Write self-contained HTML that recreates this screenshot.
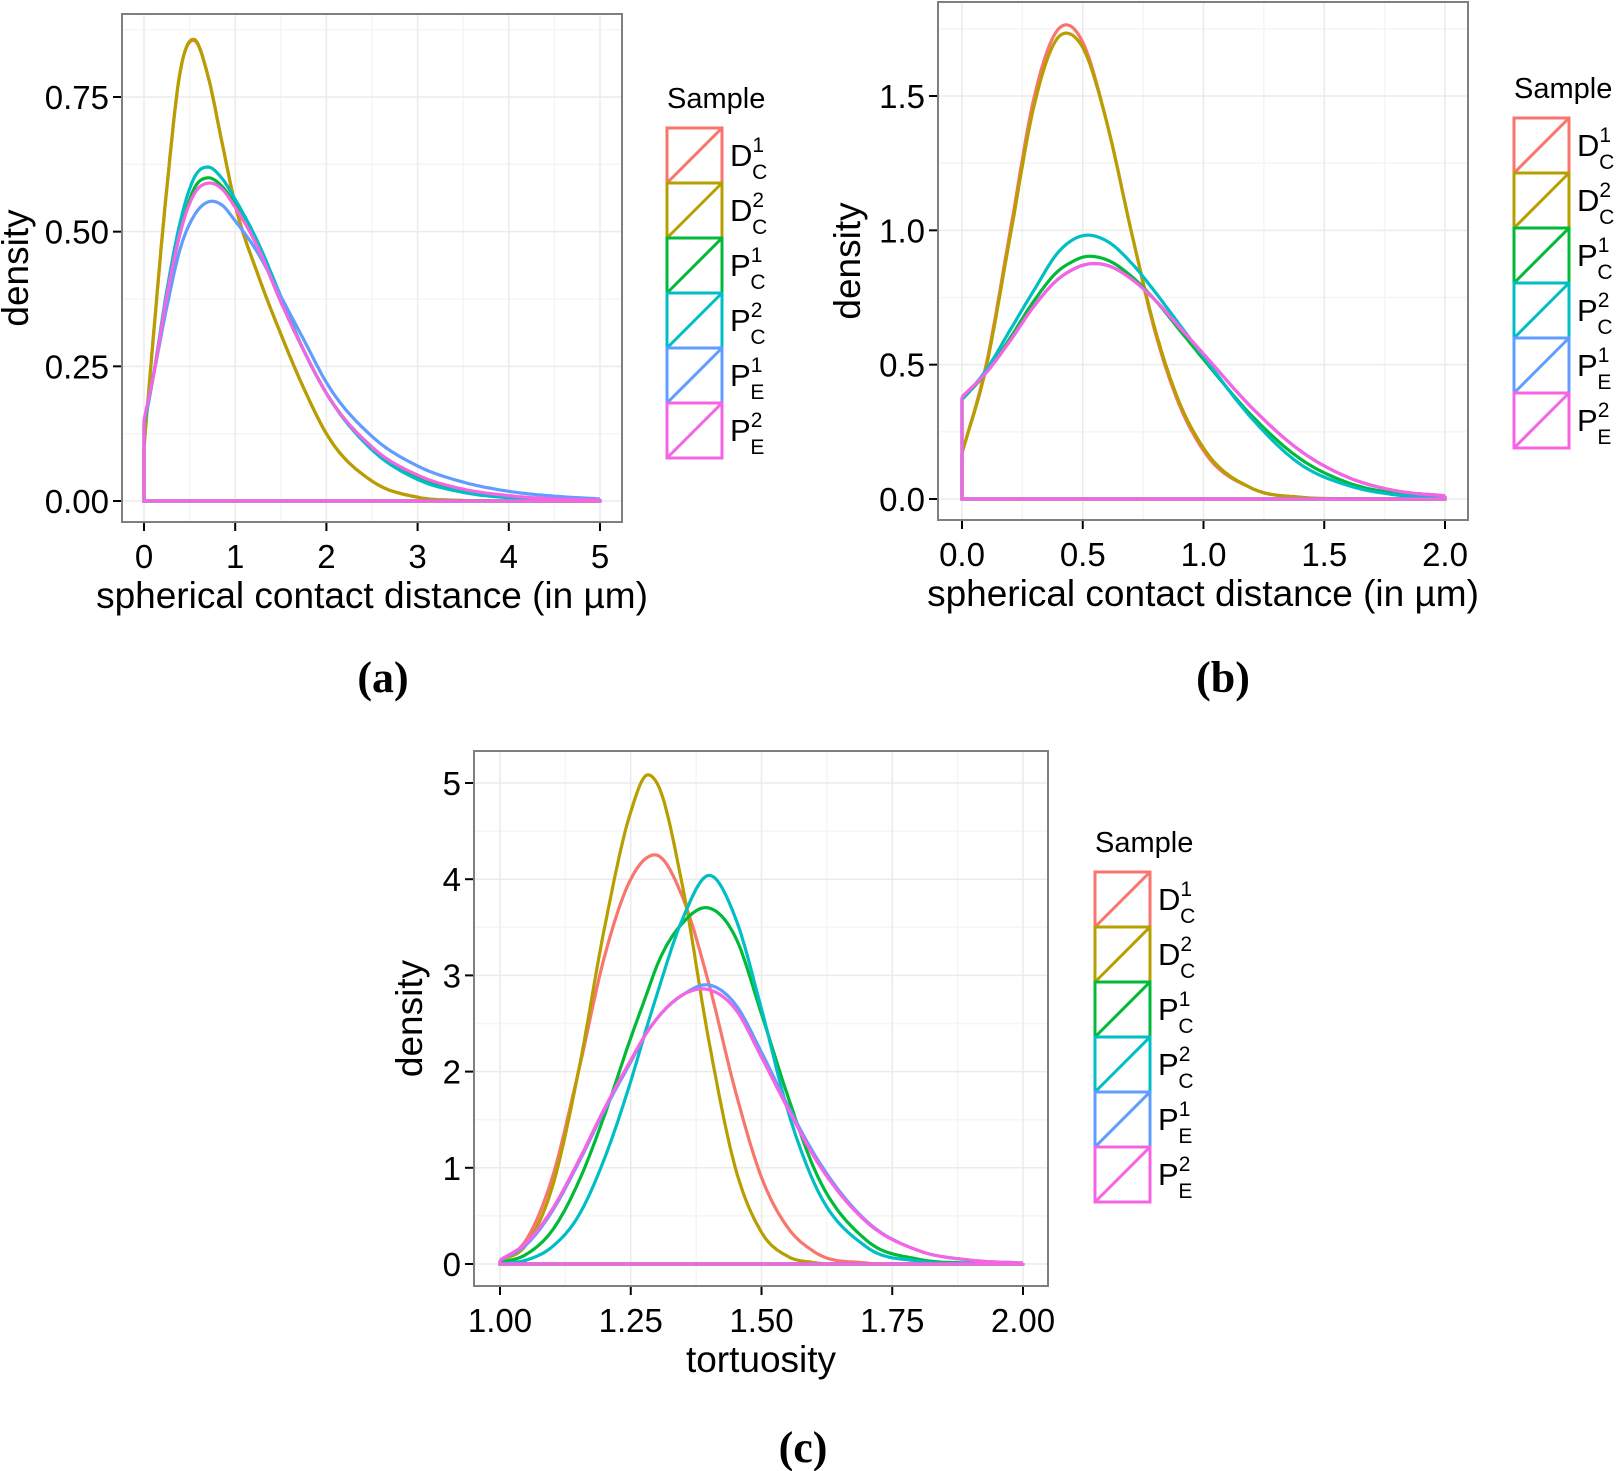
<!DOCTYPE html>
<html><head><meta charset="utf-8"><style>
html,body{margin:0;padding:0;background:#fff}
svg{display:block}
</style></head><body>
<svg id="fig" width="1622" height="1471" viewBox="0 0 1622 1471" xmlns="http://www.w3.org/2000/svg" font-family="Liberation Sans, Arial, sans-serif"></svg>
<script>
// ---------- data ----------
const seriesNames = ["DC1","DC2","PC1","PC2","PE1","PE2"];
const seriesColors = ["#F8766D","#B79F00","#00BA38","#00BFC4","#619CFF","#F564E3"];
const legendBase = ["D","D","P","P","P","P"];
const legendSup = ["1","2","1","2","1","2"];
const legendSub = ["C","C","C","C","E","E"];

// panel a
const xsA = [0,0.1,0.25,0.4,0.55,0.7,0.85,1,1.25,1.5,1.75,2,2.5,3,3.5,4,4.5,5];
const aDC1 = [0.1,0.3,0.58,0.8,0.855,0.79,0.67,0.55,0.42,0.31,0.21,0.125,0.037,0.007,0.001,0,0,0];
const aDC2 = [0.1,0.3,0.58,0.8,0.857,0.79,0.67,0.55,0.42,0.31,0.21,0.125,0.037,0.007,0.001,0,0,0];
const aPC1 = [0.14,0.23,0.38,0.5,0.58,0.6,0.585,0.55,0.47,0.37,0.28,0.2,0.1,0.045,0.02,0.008,0.003,0.001];
const aPC2 = [0.14,0.23,0.39,0.52,0.6,0.62,0.6,0.56,0.48,0.38,0.28,0.2,0.095,0.04,0.016,0.006,0.002,0.001];
const aPE1 = [0.15,0.23,0.36,0.47,0.53,0.555,0.55,0.52,0.46,0.38,0.3,0.22,0.12,0.065,0.035,0.018,0.009,0.004];
const aPE2 = [0.15,0.23,0.38,0.5,0.57,0.59,0.58,0.545,0.47,0.37,0.28,0.2,0.1,0.048,0.022,0.01,0.004,0.002];
const ticksAx = [0,1,2,3,4,5];
const ticksAy = [0,0.25,0.5,0.75];
const labelsAy = ["0.00","0.25","0.50","0.75"];

// panel b
const xsB = [0,0.1,0.2,0.3,0.4,0.45,0.5,0.6,0.7,0.8,0.9,1,1.2,1.4,1.6,1.8,2];
const bDC1 = [0.17,0.5,1.0,1.5,1.75,1.76,1.7,1.4,1.0,0.62,0.35,0.18,0.04,0.006,0.001,0,0];
const bDC2 = [0.17,0.49,0.98,1.47,1.72,1.73,1.68,1.4,1.0,0.63,0.36,0.19,0.04,0.007,0.001,0,0];
const bPC1 = [0.37,0.47,0.6,0.74,0.85,0.88,0.9,0.89,0.83,0.74,0.63,0.52,0.31,0.15,0.06,0.02,0.005];
const bPC2 = [0.37,0.48,0.63,0.78,0.92,0.96,0.98,0.96,0.88,0.77,0.65,0.53,0.3,0.13,0.05,0.015,0.004];
const bPE1 = [0.38,0.47,0.59,0.72,0.82,0.85,0.87,0.87,0.82,0.74,0.64,0.54,0.34,0.18,0.08,0.03,0.012];
const bPE2 = [0.38,0.47,0.59,0.72,0.82,0.85,0.87,0.87,0.82,0.74,0.64,0.54,0.34,0.18,0.08,0.03,0.012];
const ticksBx = [0,0.5,1,1.5,2];
const labelsBx = ["0.0","0.5","1.0","1.5","2.0"];
const ticksBy = [0,0.5,1,1.5];
const labelsBy = ["0.0","0.5","1.0","1.5"];

// panel c
const xsC = [1,1.05,1.1,1.15,1.2,1.25,1.28,1.3,1.35,1.4,1.45,1.5,1.55,1.6,1.7,1.8,1.9,2];
const cDC1 = [0.03,0.25,0.9,2.0,3.2,4.0,4.22,4.25,3.8,2.9,1.8,0.9,0.38,0.13,0.01,0,0,0];
const cDC2 = [0.03,0.2,0.8,2.0,3.5,4.7,5.08,5.0,3.9,2.3,1.0,0.33,0.08,0.015,0,0,0,0];
const cPC1 = [0.01,0.1,0.35,0.85,1.55,2.35,2.8,3.1,3.55,3.7,3.4,2.6,1.75,1.0,0.25,0.05,0.01,0];
const cPC2 = [0.005,0.04,0.18,0.5,1.1,1.9,2.45,2.8,3.6,4.04,3.6,2.65,1.6,0.85,0.18,0.03,0.005,0];
const cPE1 = [0.04,0.2,0.55,1.05,1.6,2.1,2.4,2.55,2.8,2.9,2.7,2.2,1.65,1.15,0.45,0.14,0.04,0.01];
const cPE2 = [0.04,0.22,0.57,1.07,1.62,2.12,2.4,2.55,2.8,2.85,2.65,2.15,1.62,1.12,0.44,0.14,0.04,0.01];
const ticksCx = [1,1.25,1.5,1.75,2];
const labelsCx = ["1.00","1.25","1.50","1.75","2.00"];
const ticksCy = [0,1,2,3,4,5];

// ---------- drawing ----------
const NS = "http://www.w3.org/2000/svg";
const svg = document.getElementById("fig");
function mk(tag, attrs, parent){
  const e = document.createElementNS(NS, tag);
  for (const k in attrs) e.setAttribute(k, attrs[k]);
  (parent||svg).appendChild(e);
  return e;
}
function interp(xs, ys){
  const n = xs.length, m = [];
  const d = [];
  for (let i=0;i<n-1;i++) d.push((ys[i+1]-ys[i])/(xs[i+1]-xs[i]));
  for (let i=0;i<n;i++){
    if (i===0) m.push(d[0]);
    else if (i===n-1) m.push(d[n-2]);
    else {
      const h0 = xs[i]-xs[i-1], h1 = xs[i+1]-xs[i];
      m.push((d[i-1]*h1 + d[i]*h0)/(h0+h1));
    }
  }
  const out = [];
  for (let i=0;i<n-1;i++){
    const h = xs[i+1]-xs[i];
    const steps = 14;
    for (let s=0;s<steps;s++){
      const t = s/steps, t2=t*t, t3=t2*t;
      const y = (2*t3-3*t2+1)*ys[i] + (t3-2*t2+t)*h*m[i] + (-2*t3+3*t2)*ys[i+1] + (t3-t2)*h*m[i+1];
      out.push([xs[i]+t*h, Math.max(0,y)]);
    }
  }
  out.push([xs[n-1], ys[n-1]]);
  return out;
}

function panel(cfg){
  const g = mk("g", {});
  
  
  const sx = v => cfg.px0 + (v - cfg.x0) * (cfg.px1 - cfg.px0) / (cfg.x1 - cfg.x0);
  const sy = v => cfg.py0 + (v - cfg.y0) * (cfg.py1 - cfg.py0) / (cfg.y1 - cfg.y0);
  const bg = mk("rect", {x:cfg.L, y:cfg.T, width:cfg.R-cfg.L, height:cfg.B-cfg.T, fill:"#fff"}, g);
  
  
  for (let i=0;i<cfg.xt.length-1;i++){
    const x = sx((cfg.xt[i]+cfg.xt[i+1])/2);
    mk("line",{x1:x,x2:x,y1:cfg.T,y2:cfg.B,stroke:"#f5f5f5","stroke-width":1.5},g);
  }
  for (let i=0;i<cfg.yt.length-1;i++){
    const y = sy((cfg.yt[i]+cfg.yt[i+1])/2);
    mk("line",{x1:cfg.L,x2:cfg.R,y1:y,y2:y,stroke:"#f5f5f5","stroke-width":1.5},g);
  }
  { const y = sy(cfg.yt[cfg.yt.length-1] + (cfg.yt[1]-cfg.yt[0])/2); if (y>cfg.T) mk("line",{x1:cfg.L,x2:cfg.R,y1:y,y2:y,stroke:"#f5f5f5","stroke-width":1.5},g); }
  cfg.xt.forEach((v,i)=>{
    const x = sx(v);
    mk("line",{x1:x,x2:x,y1:cfg.T,y2:cfg.B,stroke:"#ebebeb","stroke-width":1.5},g);
    mk("line",{x1:x,x2:x,y1:cfg.B,y2:cfg.B+9,stroke:"#000","stroke-width":2},g);
    const t = mk("text",{x:x,y:cfg.B+46,"text-anchor":"middle","font-size":33,fill:"#000"},g);
    t.textContent = cfg.xl[i];
    
    
  });
  cfg.yt.forEach((v,i)=>{
    const y = sy(v);
    mk("line",{x1:cfg.L,x2:cfg.R,y1:y,y2:y,stroke:"#ebebeb","stroke-width":1.5},g);
    mk("line",{x1:cfg.L-9,x2:cfg.L,y1:y,y2:y,stroke:"#000","stroke-width":2},g);
    const t = mk("text",{x:cfg.L-13,y:y+12,"text-anchor":"end","font-size":33,fill:"#000"},g);
    t.textContent = cfg.yl[i];
    
    
  });
  cfg.series.forEach((vals,k)=>{
    const pts = interp(cfg.xs, vals).map(p=>[sx(p[0]), sy(p[1])]);
    const d = "M" + pts.map(p=>p[0].toFixed(1)+","+p[1].toFixed(1)).join(" L");
    const p = mk("path",{d:d,fill:"none",stroke:seriesColors[k],"stroke-width":3.2,"stroke-linejoin":"round"},g);
    
    
    const e = mk("path",{d:"M"+sx(cfg.xs[0])+","+sy(vals[0])+" L"+sx(cfg.xs[0])+","+sy(0)+" L"+sx(cfg.xs[cfg.xs.length-1])+","+sy(0)+" L"+sx(cfg.xs[cfg.xs.length-1])+","+sy(vals[vals.length-1]),fill:"none",stroke:seriesColors[k],"stroke-width":3.2},g);
    
    
  });
  const br = mk("rect",{x:cfg.L,y:cfg.T,width:cfg.R-cfg.L,height:cfg.B-cfg.T,fill:"none",stroke:"#7f7f7f","stroke-width":2},g);
  
  
  const xt = mk("text",{x:(cfg.L+cfg.R)/2,y:cfg.B+86,"text-anchor":"middle","font-size":37,fill:"#000"},g);
  xt.textContent = cfg.xtitle;
  
  
  const yc = (cfg.T+cfg.B)/2;
  const yt = mk("text",{x:cfg.ytx,y:yc,"text-anchor":"middle","font-size":37,fill:"#000",transform:"rotate(-90 "+cfg.ytx+" "+yc+")"},g);
  yt.textContent = "density";
  
  
  const lg = mk("g",{},g);
  
  
  const st = mk("text",{x:cfg.lx,y:cfg.ly-20,"font-size":29,fill:"#000"},lg);
  st.textContent = "Sample";
  
  
  const kh = 55, kw = 55;
  seriesNames.forEach((n,k)=>{
    const y = cfg.ly + k*kh;
    const eg = mk("g",{},lg);
    
    
    mk("rect",{x:cfg.lx,y:y,width:kw,height:kh,fill:"#fff",stroke:seriesColors[k],"stroke-width":3},eg);
    mk("line",{x1:cfg.lx,y1:y+kh,x2:cfg.lx+kw,y2:y,stroke:seriesColors[k],"stroke-width":3},eg);
    const t = mk("text",{x:cfg.lx+kw+8,y:y+38,"font-size":31,fill:"#000"},eg);
    const t1 = mk("tspan",{},t); t1.textContent = legendBase[k];
    const t2 = mk("tspan",{dy:-14,"font-size":21},t); t2.textContent = legendSup[k];
    const t3 = mk("tspan",{dx:-12,dy:27,"font-size":21},t); t3.textContent = legendSub[k];
  });
  const cap = mk("text",{x:cfg.capx,y:cfg.capy,"text-anchor":"middle","font-size":44,"font-weight":"bold",style:"font-family:'Liberation Serif',serif",fill:"#000"},g);
  cap.textContent = cfg.cap;
  
  
}

panel({name:"panel-a", L:122,T:14,R:622,B:522, x0:0,x1:5,px0:144,px1:600, y0:0,y1:0.75,py0:501,py1:97,
  xt:ticksAx, xl:ticksAx.map(String), yt:ticksAy, yl:labelsAy, xs:xsA,
  series:[aDC1,aDC2,aPC1,aPC2,aPE1,aPE2], xtitle:"spherical contact distance (in µm)", ytx:28,
  lx:667, ly:128, cap:"(a)", capx:383, capy:692});
panel({name:"panel-b", L:938,T:2,R:1468,B:520, x0:0,x1:2,px0:962,px1:1445, y0:0,y1:1.5,py0:499,py1:96,
  xt:ticksBx, xl:labelsBx, yt:ticksBy, yl:labelsBy, xs:xsB,
  series:[bDC1,bDC2,bPC1,bPC2,bPE1,bPE2], xtitle:"spherical contact distance (in µm)", ytx:860,
  lx:1514, ly:118, cap:"(b)", capx:1223, capy:692});
panel({name:"panel-c", L:474,T:751,R:1048,B:1286, x0:1,x1:2,px0:500,px1:1023, y0:0,y1:5,py0:1264,py1:783,
  xt:ticksCx, xl:labelsCx, yt:ticksCy, yl:ticksCy.map(String), xs:xsC,
  series:[cDC1,cDC2,cPC1,cPC2,cPE1,cPE2], xtitle:"tortuosity", ytx:422,
  lx:1095, ly:872, cap:"(c)", capx:803, capy:1462});
</script>
</body></html>
